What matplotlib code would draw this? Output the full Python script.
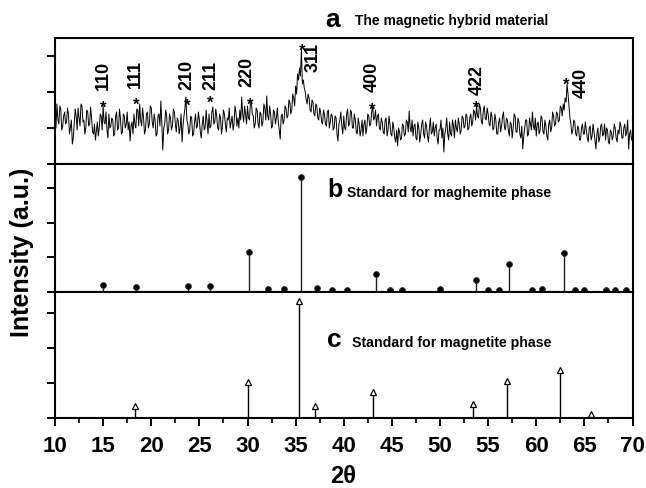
import numpy as np
import matplotlib
matplotlib.use('Agg')
import matplotlib.pyplot as plt
from matplotlib.ticker import MultipleLocator

plt.rcParams['font.family'] = ['Liberation Sans', 'DejaVu Sans']

# ---------------- data ----------------
# Panel a: measured pattern of the hybrid material (2theta from 10 to 70, step 0.1)
two_theta_start = 10.0
two_theta_step = 0.1
hybrid_intensity = [
    50, 36, 60, 45, 40, 58, 55, 34, 38, 48,
    52, 40, 42, 56, 50, 30, 36, 44, 20, 26,
    40, 55, 48, 34, 56, 46, 38, 60, 58, 42,
    44, 30, 36, 54, 52, 38, 40, 57, 46, 32,
    30, 40, 24, 33, 42, 28, 36, 50, 48, 34,
    58, 42, 40, 52, 34, 26, 50, 36, 38, 46,
    44, 28, 30, 48, 52, 34, 36, 55, 46, 30,
    32, 50, 48, 36, 40, 52, 34, 42, 23, 38,
    42, 30, 50, 40, 36, 55, 54, 38, 60, 44,
    38, 56, 46, 30, 34, 50, 52, 36, 40, 58,
    56, 42, 36, 50, 44, 28, 30, 48, 50, 38,
    63, 40, 14, 36, 40, 54, 48, 30, 34, 50,
    46, 34, 38, 55, 52, 40, 32, 46, 44, 30,
    36, 50, 22, 38, 48, 56, 67, 44, 40, 30,
    34, 48, 46, 28, 30, 42, 50, 36, 38, 52,
    44, 32, 26, 40, 48, 34, 36, 54, 42, 30,
    50, 36, 38, 52, 57, 40, 42, 55, 48, 36,
    34, 50, 46, 30, 38, 54, 50, 40, 32, 46,
    44, 56, 36, 42, 48, 34, 40, 58, 52, 38,
    46, 36, 54, 44, 67, 50, 42, 58, 50, 40,
    58, 46, 44, 60, 62, 50, 48, 36, 40, 56,
    54, 40, 36, 52, 50, 38, 42, 60, 56, 44,
    68, 48, 44, 58, 50, 36, 38, 54, 52, 40,
    46, 56, 42, 34, 25, 48, 50, 40, 44, 58,
    56, 46, 48, 64, 62, 50, 54, 70, 66, 58,
    78, 70, 90, 84, 96, 88, 115, 80, 84, 76,
    72, 64, 60, 70, 66, 54, 52, 64, 62, 50,
    48, 60, 58, 46, 44, 56, 52, 42, 40, 54,
    50, 40, 38, 52, 54, 36, 42, 50, 48, 34,
    36, 48, 46, 30, 23, 40, 44, 52, 38, 30,
    48, 36, 34, 50, 55, 38, 40, 54, 52, 36,
    36, 50, 44, 32, 30, 46, 40, 28, 34, 44,
    28, 40, 44, 30, 36, 50, 48, 38, 40, 52,
    58, 44, 46, 54, 38, 48, 50, 36, 34, 46,
    42, 32, 30, 44, 46, 28, 34, 48, 40, 30,
    28, 42, 36, 26, 22, 34, 18, 36, 32, 24,
    26, 40, 38, 28, 30, 44, 42, 32, 53, 36,
    32, 44, 28, 38, 40, 26, 24, 42, 36, 22,
    30, 40, 44, 30, 26, 42, 38, 28, 22, 36,
    46, 30, 32, 42, 28, 36, 40, 26, 20, 34,
    34, 44, 26, 36, 12, 30, 36, 46, 30, 24,
    42, 30, 28, 44, 38, 26, 44, 36, 32, 46,
    40, 30, 34, 48, 46, 36, 38, 50, 48, 34,
    36, 46, 50, 38, 42, 54, 52, 44, 58, 48,
    46, 60, 56, 42, 40, 54, 58, 46, 44, 56,
    50, 40, 38, 52, 48, 34, 36, 50, 44, 30,
    30, 42, 46, 32, 38, 48, 52, 36, 34, 46,
    44, 34, 28, 42, 40, 26, 36, 50, 48, 32,
    32, 46, 42, 30, 26, 38, 15, 28, 36, 44,
    44, 28, 30, 46, 40, 34, 52, 38, 34, 46,
    28, 40, 42, 30, 34, 48, 46, 32, 30, 44,
    38, 28, 24, 40, 44, 32, 36, 52, 48, 38,
    40, 52, 50, 42, 44, 58, 56, 48, 60, 54,
    66, 62, 80, 70, 58, 46, 40, 30, 34, 44,
    42, 30, 28, 38, 36, 24, 24, 36, 40, 30,
    30, 42, 34, 26, 22, 36, 38, 24, 28, 40,
    32, 24, 15, 30, 36, 22, 26, 38, 40, 28,
    30, 40, 24, 36, 34, 22, 20, 34, 32, 24,
    28, 40, 36, 26, 22, 34, 30, 42, 38, 26,
    26, 36, 40, 28, 32, 44, 15, 30, 34, 24,
    28,
]

hkl_labels = ['110', '111', '210', '211', '220', '311', '400', '422', '440']
hkl_star_x = [15.0, 18.4, 23.7, 26.1, 30.3, 35.7, 43.0, 53.8, 63.1]
hkl_star_y = [62, 65, 64, 67, 65, 119, 60, 62, 85]
hkl_label_x = [15.0, 18.4, 23.7, 26.2, 29.9, 36.8, 43.0, 53.9, 64.65]
hkl_label_y = [75, 77, 75, 75, 78, 93, 73, 70, 67]

# Panel b: standard maghemite
maghemite_pos = [15.0, 18.4, 23.8, 26.1, 30.2, 32.1, 33.8, 35.6, 37.2, 38.8,
                 40.3, 43.3, 44.8, 46.0, 50.0, 53.7, 55.0, 56.1, 57.2, 59.6,
                 60.6, 62.9, 64.0, 65.0, 67.2, 68.2, 69.3]
maghemite_int = [6, 4, 5, 5, 35, 2.5, 2.5, 100, 3.5, 1.5,
                 2, 16, 1.5, 1.5, 2.5, 10, 1.5, 1.5, 24, 1.5,
                 2.5, 34, 1.5, 1.5, 1.5, 1.5, 1.5]

# Panel c: standard magnetite
magnetite_pos = [18.3, 30.1, 35.4, 37.06, 43.03, 53.4, 56.95, 62.5, 65.7]
magnetite_int = [10, 31, 100, 10, 22, 12, 32, 41, 3.4]

x_ticks = [10, 15, 20, 25, 30, 35, 40, 45, 50, 55, 60, 65, 70]

# ---------------- figure ----------------
W, H = 646, 489
fig = plt.figure(figsize=(W / 100, H / 100), dpi=100)

left = 55 / W
width = (632.5 - 55) / W

def ax_rect(top_px, bot_px):
    return [left, 1 - bot_px / H, width, (bot_px - top_px) / H]

ax_a = fig.add_axes(ax_rect(39, 165))
ax_b = fig.add_axes(ax_rect(165, 293))
ax_c = fig.add_axes(ax_rect(293, 419))

spine_lw = 1.5
for ax in (ax_a, ax_b, ax_c):
    ax.set_xlim(10, 70)
    for s in ax.spines.values():
        s.set_linewidth(spine_lw)
    ax.set_xticks(x_ticks)
    ax.tick_params(axis='both', which='major', direction='out', length=6,
                   width=1.4, right=False, top=False)
    ax.set_yticklabels([])

# panel a
tt = two_theta_start + two_theta_step * np.arange(len(hybrid_intensity))
ax_a.plot(tt, hybrid_intensity, color='black', lw=0.7)
ax_a.set_ylim(0, 126)
ax_a.set_yticks([0, 36, 72, 108])
ax_a.set_xticklabels([])
for lab, sx, sy, lx, ly in zip(hkl_labels, hkl_star_x, hkl_star_y, hkl_label_x, hkl_label_y):
    ax_a.text(sx, sy - 10, '*', ha='center', va='baseline', fontsize=12,
              fontweight='bold')
    ax_a.text(lx, ly, lab, rotation=90, ha='center', va='bottom', fontsize=13,
              fontweight='bold')

# panel b
ax_b.vlines(maghemite_pos, 0, maghemite_int, color='#222222', lw=1.0)
ax_b.plot(maghemite_pos, maghemite_int, 'o', color='black', ms=4.2, mec='#333333',
          mew=0.6)
ax_b.set_ylim(0, 111.3)
ax_b.set_yticks([0, 30, 60, 90])
ax_b.set_xticklabels([])

# panel c
ax_c.vlines(magnetite_pos, 0, magnetite_int, color='black', lw=1.0)
ax_c.plot(magnetite_pos, magnetite_int, '^', mfc='white', mec='black', ms=5,
          mew=0.9)
ax_c.set_ylim(0, 108)
ax_c.set_yticks([0, 30, 60, 90])
ax_c.xaxis.set_minor_locator(MultipleLocator(2.5))
ax_c.tick_params(axis='x', which='minor', direction='out', length=3.5, width=1.2)
ax_c.set_xticklabels([str(t) for t in x_ticks], fontsize=16, fontweight='bold')
ax_c.tick_params(axis='x', which='major', pad=6)

# texts
def ftext(xp, yp, s, **kw):
    fig.text(xp / W, 1 - yp / H, s, **kw)

ftext(325, 27, 'a', fontsize=19, fontweight='bold', va='baseline')
ftext(355, 25, 'The magnetic hybrid material', fontsize=10, fontweight='bold', va='baseline')
ftext(327, 197, 'b', fontsize=18, fontweight='bold', va='baseline')
ftext(347, 197, 'Standard for maghemite phase', fontsize=10, fontweight='bold', va='baseline')
ftext(327, 347, 'c', fontsize=19, fontweight='bold', va='baseline')
ftext(352, 347, 'Standard for magnetite phase', fontsize=10.2, fontweight='bold', va='baseline')

ftext(22, 252, 'Intensity (a.u.)', fontsize=18, fontweight='bold', rotation=90,
      ha='center', va='center')
ftext(343.5, 483, '2θ', fontsize=17, fontweight='bold', ha='center', va='baseline')

fig.savefig('out.png', dpi=100)
